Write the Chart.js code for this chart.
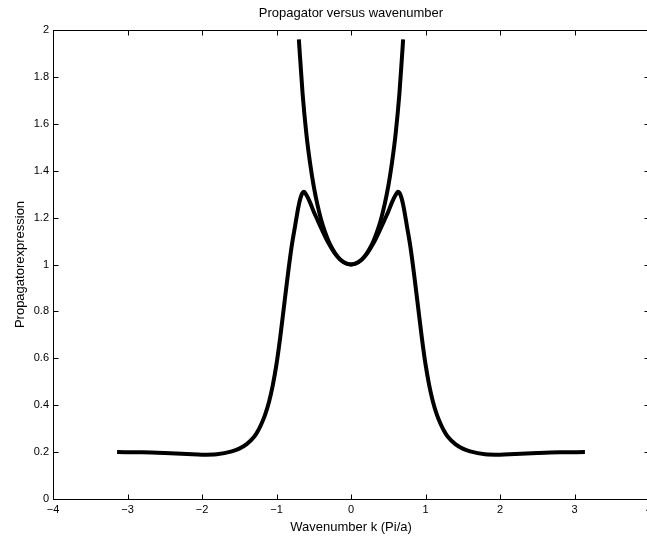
<!DOCTYPE html>
<html lang="en">
<head>
  <meta charset="UTF-8">
  <title>Propagator versus wavenumber</title>
  <script src="https://cdn.jsdelivr.net/npm/chart.js"></script>
  <style>
    html, body {
      margin: 0;
      padding: 0;
      background: #fff;
      overflow: hidden;
    }
    #wrap {
      width: 650px;
      height: 540px;
    }
  </style>
</head>
<body>

<div id="wrap"><canvas id="myChart" width="650" height="540"></canvas></div>

<script>
  // wavenumber k (Pi/a) and the two propagator curves
  const kA = [-3.14, -2.8, -2.5, -2.2, -2.0, -1.8, -1.6, -1.5, -1.4, -1.3, -1.25, -1.2, -1.15, -1.1, -1.05,
              -1.0, -0.95, -0.9, -0.85, -0.8, -0.75, -0.7, -0.66, -0.63, -0.6, -0.55, -0.5, -0.45, -0.4, -0.3, -0.2, -0.1,
              0, 0.1, 0.2, 0.3, 0.4, 0.45, 0.5, 0.55, 0.6, 0.63, 0.66, 0.7, 0.75, 0.8, 0.85, 0.9, 0.95,
              1.0, 1.05, 1.1, 1.15, 1.2, 1.25, 1.3, 1.4, 1.5, 1.6, 1.8, 2.0, 2.2, 2.5, 2.8, 3.14];
  const propA = [0.200, 0.199, 0.196, 0.192, 0.189, 0.191, 0.203, 0.215, 0.234, 0.265, 0.290, 0.322, 0.362, 0.415, 0.485,
                 0.575, 0.690, 0.820, 0.950, 1.070, 1.165, 1.255, 1.300, 1.310, 1.297, 1.265, 1.225, 1.190, 1.155, 1.090, 1.040, 1.010,
                 1.000, 1.010, 1.040, 1.090, 1.155, 1.190, 1.225, 1.265, 1.297, 1.310, 1.300, 1.255, 1.165, 1.070, 0.950, 0.820, 0.690,
                 0.575, 0.485, 0.415, 0.362, 0.322, 0.290, 0.265, 0.234, 0.215, 0.203, 0.191, 0.189, 0.192, 0.196, 0.199, 0.200];

  const kB = [-0.70, -0.65, -0.6, -0.55, -0.5, -0.45, -0.4, -0.35, -0.3, -0.25, -0.2, -0.15, -0.1, -0.05,
              0, 0.05, 0.1, 0.15, 0.2, 0.25, 0.3, 0.35, 0.4, 0.45, 0.5, 0.55, 0.6, 0.65, 0.70];
  const propB = [1.96, 1.73, 1.56, 1.434, 1.333, 1.254, 1.19, 1.14, 1.099, 1.067, 1.042, 1.023, 1.01, 1.003,
                 1.0, 1.003, 1.01, 1.023, 1.042, 1.067, 1.099, 1.14, 1.19, 1.254, 1.333, 1.434, 1.56, 1.73, 1.96];

  const xTicks = [-4, -3, -2, -1, 0, 1, 2, 3, 4];
  const yTicks = [0, 0.2, 0.4, 0.6, 0.8, 1, 1.2, 1.4, 1.6, 1.8, 2];

  const FONT = 'Liberation Sans, Arial, Helvetica, sans-serif';
  const minus = v => String(v).replace('-', '\u2212');

  // matlab style box with inward ticks on all four sides
  const boxPlugin = {
    id: 'matlabBox',
    beforeDatasetsDraw(chart) {
      const { ctx, chartArea: a, scales: { x, y } } = chart;
      const L = Math.round(a.left) + 0.5, R = Math.round(a.right) + 0.5;
      const T = Math.round(a.top) + 0.5, B = Math.round(a.bottom) + 0.5;
      ctx.save();
      ctx.strokeStyle = '#000';
      ctx.lineWidth = 1;
      ctx.strokeRect(L, T, R - L, B - T);
      ctx.beginPath();
      xTicks.forEach(v => {
        const px = Math.round(x.getPixelForValue(v)) + 0.5;
        ctx.moveTo(px, B); ctx.lineTo(px, B - 5);
        ctx.moveTo(px, T); ctx.lineTo(px, T + 5);
      });
      yTicks.forEach(v => {
        const py = Math.round(y.getPixelForValue(v)) + 0.5;
        ctx.moveTo(L, py); ctx.lineTo(L + 5, py);
        ctx.moveTo(R, py); ctx.lineTo(R - 5, py);
      });
      ctx.stroke();
      ctx.restore();
    }
  };

  const lineStyle = {
    borderColor: '#000',
    borderWidth: 4,
    pointRadius: 0,
    fill: false,
    cubicInterpolationMode: 'monotone'
  };

  const ctx = document.getElementById('myChart').getContext('2d');
  const myChart = new Chart(ctx, {
    type: 'line',
    data: {
      datasets: [
        Object.assign({ label: 'A', data: kA.map((k, i) => ({ x: k, y: propA[i] })) }, lineStyle),
        Object.assign({ label: 'B', data: kB.map((k, i) => ({ x: k, y: propB[i] })) }, lineStyle)
      ]
    },
    options: {
      responsive: false,
      animation: false,
      layout: { padding: { left: 0, right: 1, top: 0, bottom: 0 } },
      plugins: {
        legend: { display: false },
        tooltip: { enabled: false },
        title: {
          display: true,
          text: 'Propagator versus wavenumber',
          fullSize: false,
          color: '#000',
          font: { family: FONT, size: 13, weight: 'normal' },
          padding: { top: 5.5, bottom: 8.9 }
        }
      },
      scales: {
        x: {
          type: 'linear',
          min: -4,
          max: 4,
          afterBuildTicks: s => { s.ticks = xTicks.map(v => ({ value: v })); },
          afterFit: s => { s.height = 41; s.paddingLeft = 0; s.paddingRight = 0; },
          grid: { display: false, drawTicks: false },
          border: { display: false },
          ticks: {
            color: '#000',
            padding: 4,
            maxRotation: 0,
            font: { family: FONT, size: 11 },
            callback: v => minus(v)
          },
          title: {
            display: true,
            text: 'Wavenumber k (Pi/a)',
            color: '#000',
            font: { family: FONT, size: 13 },
            padding: { top: 0, bottom: 4.5 }
          }
        },
        y: {
          type: 'linear',
          min: 0,
          max: 2,
          afterBuildTicks: s => { s.ticks = yTicks.map(v => ({ value: v })); },
          afterFit: s => { s.width = 53; },
          grid: { display: false, drawTicks: false },
          border: { display: false },
          ticks: {
            color: '#000',
            padding: 4,
            font: { family: FONT, size: 11 },
            callback: v => minus(v)
          },
          title: {
            display: true,
            text: 'Propagatorexpression',
            color: '#000',
            font: { family: FONT, size: 13 },
            padding: { top: 13, bottom: 0 }
          }
        }
      }
    },
    plugins: [boxPlugin]
  });
</script>

</body>
</html>
